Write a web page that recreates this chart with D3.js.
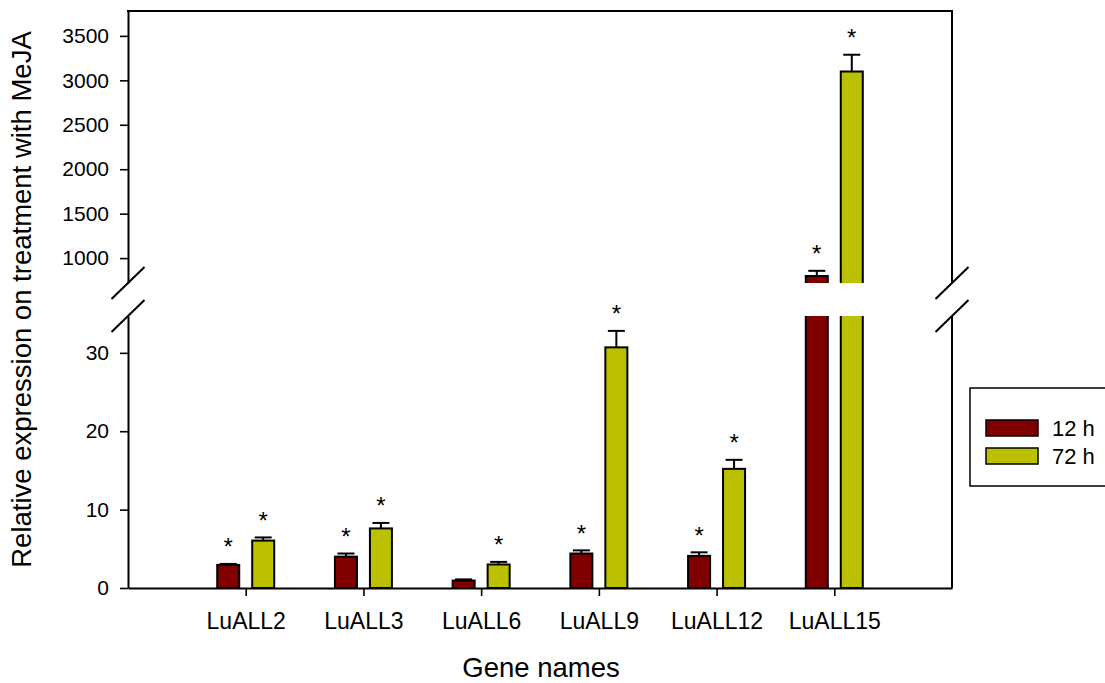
<!DOCTYPE html>
<html>
<head>
<meta charset="utf-8">
<script src="https://cdn.jsdelivr.net/npm/d3@7"></script>
<style>
  html, body { margin: 0; padding: 0; background: #fff; }
  svg text { font-family: Arial, "Liberation Sans", sans-serif; fill: #000; }
</style>
</head>
<body>
<svg id="chart" width="1105" height="683"></svg>
<script>
// Gene expression after MeJA treatment (fold change), two time points
const genes = ["LuALL2", "LuALL3", "LuALL6", "LuALL9", "LuALL12", "LuALL15"];
const series = ["12 h", "72 h"];
const values12h = [2.95, 4.0, 0.95, 4.4, 4.1, 800];
const values72h = [6.05, 7.6, 3.0, 30.7, 15.2, 3100];
const errors12h = [0.12, 0.4, 0.15, 0.4, 0.45, 57];
const errors72h = [0.4, 0.7, 0.33, 2.1, 1.15, 188];
const significant12h = [true, true, false, true, true, true];
const significant72h = [true, true, true, true, true, true];
const lowerTicks = [0, 10, 20, 30];
const upperTicks = [1000, 1500, 2000, 2500, 3000, 3500];
const colors = ["#800000", "#bbc000"];

const svg = d3.select("#chart");
const plotLeft = 128, plotRight = 952, plotBottom = 588, plotTop = 11;
const breakLow = 316, breakHigh = 283;

// broken y axis: lower segment for small values, upper segment for large ones
const yLow = d3.scaleLinear().domain([0, 34.7]).range([plotBottom, breakLow]);
const yUp = d3.scaleLinear().domain([720, 3780]).range([breakHigh, plotTop]);

const x = d3.scalePoint().domain(genes).range([plotLeft, plotRight]).padding(1);
const xSub = d3.scaleBand().domain(series).range([-28.5, 28.5]).paddingInner(0.371);

const rows = [];
genes.forEach((g, i) => {
  rows.push({ gene: g, s: series[0], v: values12h[i], e: errors12h[i], sig: significant12h[i], c: colors[0] });
  rows.push({ gene: g, s: series[1], v: values72h[i], e: errors72h[i], sig: significant72h[i], c: colors[1] });
});
const threshold = yLow.domain()[1];
const yOf = v => v <= threshold ? yLow(v) : yUp(v);

const bars = svg.append("g").attr("class", "bars");
rows.forEach(d => {
  const bx = x(d.gene) + xSub(d.s);
  const bw = xSub.bandwidth();
  if (d.v <= threshold) {
    bars.append("rect")
      .attr("x", bx).attr("y", yLow(d.v))
      .attr("width", bw).attr("height", yLow(0) - yLow(d.v))
      .attr("fill", d.c).attr("stroke", "#000").attr("stroke-width", 2);
  } else {
    // lower piece up to the break, open at the top
    const lowTop = yLow(threshold);
    bars.append("rect")
      .attr("x", bx).attr("y", lowTop)
      .attr("width", bw).attr("height", yLow(0) - lowTop)
      .attr("fill", d.c);
    bars.append("path")
      .attr("d", `M${bx},${lowTop}V${yLow(0)}H${bx + bw}V${lowTop}`)
      .attr("fill", "none").attr("stroke", "#000").attr("stroke-width", 2);
    // upper piece from the break to the value, open at the bottom
    const upBase = yUp(yUp.domain()[0]);
    bars.append("rect")
      .attr("x", bx).attr("y", yUp(d.v))
      .attr("width", bw).attr("height", upBase - yUp(d.v))
      .attr("fill", d.c);
    bars.append("path")
      .attr("d", `M${bx},${upBase}V${yUp(d.v)}H${bx + bw}V${upBase}`)
      .attr("fill", "none").attr("stroke", "#000").attr("stroke-width", 2);
  }
  // upper error bar
  const cx = bx + bw / 2;
  const yTop = yOf(d.v + d.e);
  bars.append("line")
    .attr("x1", cx).attr("x2", cx).attr("y1", yOf(d.v)).attr("y2", yTop)
    .attr("stroke", "#000").attr("stroke-width", 2);
  bars.append("line")
    .attr("x1", cx - 8.5).attr("x2", cx + 8.5).attr("y1", yTop).attr("y2", yTop)
    .attr("stroke", "#000").attr("stroke-width", 2);
  if (d.sig) {
    // significance marker centred about 22px above the error cap
    bars.append("text")
      .attr("x", cx).attr("y", yTop - 22 + 13.5)
      .attr("text-anchor", "middle")
      .style("font-size", "24px")
      .text("*");
  }
});

// axes
const styleAxis = (g, size) => {
  g.attr("font-size", null).attr("font-family", null);
  g.selectAll(".domain").attr("stroke", "#000").attr("stroke-width", 2);
  g.selectAll(".tick line").attr("stroke", "#000").attr("stroke-width", 1.6);
  g.selectAll(".tick text").style("font-size", size).attr("fill", "#000");
};
const fmt = d3.format("d");
svg.append("g").attr("transform", `translate(${plotLeft},0)`)
  .call(d3.axisLeft(yLow).tickValues(lowerTicks).tickFormat(fmt).tickSize(8).tickSizeOuter(0).tickPadding(11))
  .call(styleAxis, "21px");
svg.append("g").attr("transform", `translate(${plotLeft},0)`)
  .call(d3.axisLeft(yUp).tickValues(upperTicks).tickFormat(fmt).tickSize(8).tickSizeOuter(0).tickPadding(11))
  .call(styleAxis, "21px");
svg.append("g").attr("transform", `translate(0,${plotBottom})`)
  .call(d3.axisBottom(x).tickSize(8).tickSizeOuter(0).tickPadding(16.5))
  .call(styleAxis, "23px");

// frame: top and right edges, right edge broken like the y axis
const frame = svg.append("g").attr("stroke", "#000").attr("stroke-width", 2).attr("fill", "none");
frame.append("line").attr("x1", plotLeft - 1).attr("x2", plotRight + 1).attr("y1", plotTop).attr("y2", plotTop);
frame.append("line").attr("x1", plotRight).attr("x2", plotRight).attr("y1", plotTop).attr("y2", breakHigh);
frame.append("line").attr("x1", plotRight).attr("x2", plotRight).attr("y1", breakLow).attr("y2", plotBottom);

// break marks on both vertical edges
const marks = svg.append("g").attr("stroke", "#000").attr("stroke-width", 2);
[plotLeft, plotRight].forEach(ax => {
  [breakHigh, breakLow].forEach(by => {
    marks.append("line")
      .attr("x1", ax - 16.5).attr("y1", by + 16)
      .attr("x2", ax + 16.5).attr("y2", by - 16);
  });
});

// axis titles
svg.append("text")
  .attr("transform", `translate(31,${(plotTop + plotBottom) / 2}) rotate(-90)`)
  .attr("text-anchor", "middle")
  .style("font-size", "27.5px")
  .text("Relative expression on treatment with MeJA");
svg.append("text")
  .attr("x", 541).attr("y", 677)
  .attr("text-anchor", "middle")
  .style("font-size", "27.5px")
  .text("Gene names");

// legend
const legend = svg.append("g");
legend.append("rect")
  .attr("x", 970).attr("y", 388).attr("width", 150).attr("height", 98)
  .attr("fill", "#fff").attr("stroke", "#000").attr("stroke-width", 1.5);
series.forEach((s, i) => {
  legend.append("rect")
    .attr("x", 986).attr("y", 420 + i * 28).attr("width", 52).attr("height", 16)
    .attr("fill", colors[i]).attr("stroke", "#000").attr("stroke-width", 1.5);
  legend.append("text")
    .attr("x", 1052).attr("y", 436 + i * 28)
    .style("font-size", "22px")
    .text(s);
});
</script>
</body>
</html>
